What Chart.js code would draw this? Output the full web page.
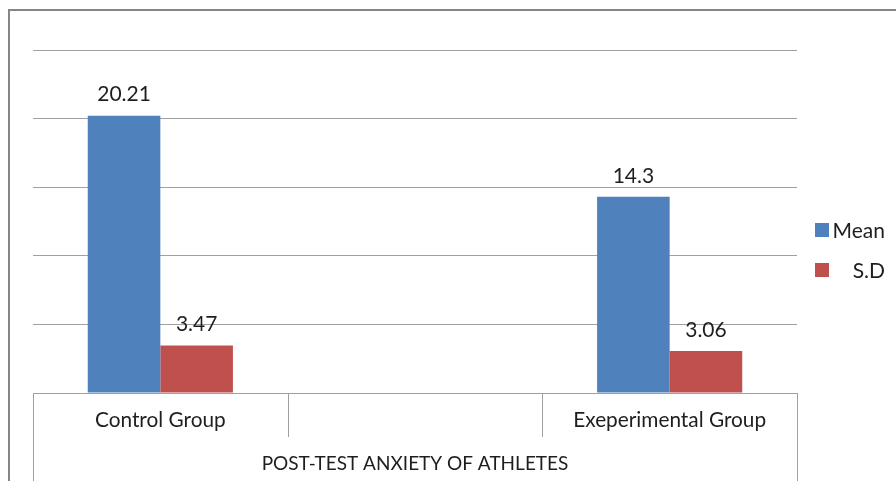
<!DOCTYPE html>
<html>
<head>
<meta charset="utf-8">
<script src="https://cdn.jsdelivr.net/npm/chart.js@4"></script>
<style>
  html, body { margin: 0; padding: 0; background: #fff; }
  #wrap { width: 896px; height: 481px; }
</style>
</head>
<body>
<div id="wrap"><canvas id="anxietyChart" width="896" height="481"></canvas></div>
<script>
// chart data
const groups = ['Control Group', '', 'Exeperimental Group'];
const meanValues = [20.21, null, 14.3];
const sdValues = [3.47, null, 3.06];
const axisTitle = 'POST-TEST ANXIETY OF ATHLETES';
const seriesNames = ['Mean', 'S.D'];
const seriesColors = ['#4F81BD', '#C0504D'];

const FONT = 'Lato, "Open Sans", sans-serif';
const TEXT = '#1e1e1e';
const LINE = '#a0a0a0';

// frame, category table below the axis, value labels and legend
const excelLook = {
    id: 'excelLook',
    afterDraw(chart) {
        const ctx = chart.ctx;
        const x = chart.scales.x;
        const area = chart.chartArea;
        const W = chart.width, H = chart.height;
        ctx.save();

        // outer frame
        ctx.strokeStyle = '#868686';
        ctx.lineWidth = 2;
        ctx.beginPath();
        ctx.moveTo(9, H);
        ctx.lineTo(9, 10);
        ctx.lineTo(W, 10);
        ctx.stroke();

        // category table
        const rowH = (H - area.bottom) / 2;
        ctx.strokeStyle = LINE;
        ctx.lineWidth = 1;
        ctx.beginPath();
        ctx.moveTo(area.left, area.bottom + 0.5);
        ctx.lineTo(area.right, area.bottom + 0.5);
        for (let i = 0; i <= groups.length; i++) {
            const px = Math.round(area.left + (area.right - area.left) * i / groups.length) + 0.5;
            const full = (i === 0 || i === groups.length);
            ctx.moveTo(px, area.bottom);
            ctx.lineTo(px, full ? H : area.bottom + rowH);
        }
        ctx.stroke();

        ctx.fillStyle = TEXT;
        ctx.font = '20.8px ' + FONT;
        ctx.textAlign = 'center';
        ctx.textBaseline = 'middle';
        groups.forEach((g, i) => {
            if (g) ctx.fillText(g, x.getPixelForValue(i), area.bottom + rowH / 2 + 5);
        });
        ctx.font = '19px ' + FONT;
        ctx.fillText(axisTitle, (area.left + area.right) / 2, area.bottom + rowH * 1.5 + 5);

        // value labels
        ctx.font = '21px ' + FONT;
        chart.data.datasets.forEach((ds, di) => {
            chart.getDatasetMeta(di).data.forEach((bar, i) => {
                if (ds.data[i] == null) return;
                ctx.fillText(String(ds.data[i]), bar.x, bar.y - 21);
            });
        });

        // legend
        const legendY = [230, 270];
        seriesNames.forEach((name, i) => {
            ctx.fillStyle = seriesColors[i];
            ctx.fillRect(815, legendY[i] - 7, 14, 14);
            ctx.fillStyle = TEXT;
            ctx.textAlign = 'right';
            ctx.fillText(name, 885, legendY[i] + 1);
        });
        ctx.restore();
    }
};

const ctx = document.getElementById('anxietyChart').getContext('2d');
new Chart(ctx, {
    type: 'bar',
    data: {
        labels: groups,
        datasets: [
            { label: seriesNames[0], data: meanValues, backgroundColor: seriesColors[0] },
            { label: seriesNames[1], data: sdValues, backgroundColor: seriesColors[1] }
        ]
    },
    options: {
        responsive: false,
        animation: false,
        layout: { padding: { left: 33, top: 50, right: 99, bottom: 88 } },
        datasets: { bar: { categoryPercentage: 0.57, barPercentage: 1.0 } },
        plugins: { legend: { display: false }, tooltip: { enabled: false } },
        scales: {
            x: { display: false },
            y: {
                min: 0,
                max: 25,
                ticks: { display: false, stepSize: 5 },
                grid: { color: LINE, drawTicks: false },
                border: { display: false }
            }
        }
    },
    plugins: [excelLook]
});
</script>
</body>
</html>
